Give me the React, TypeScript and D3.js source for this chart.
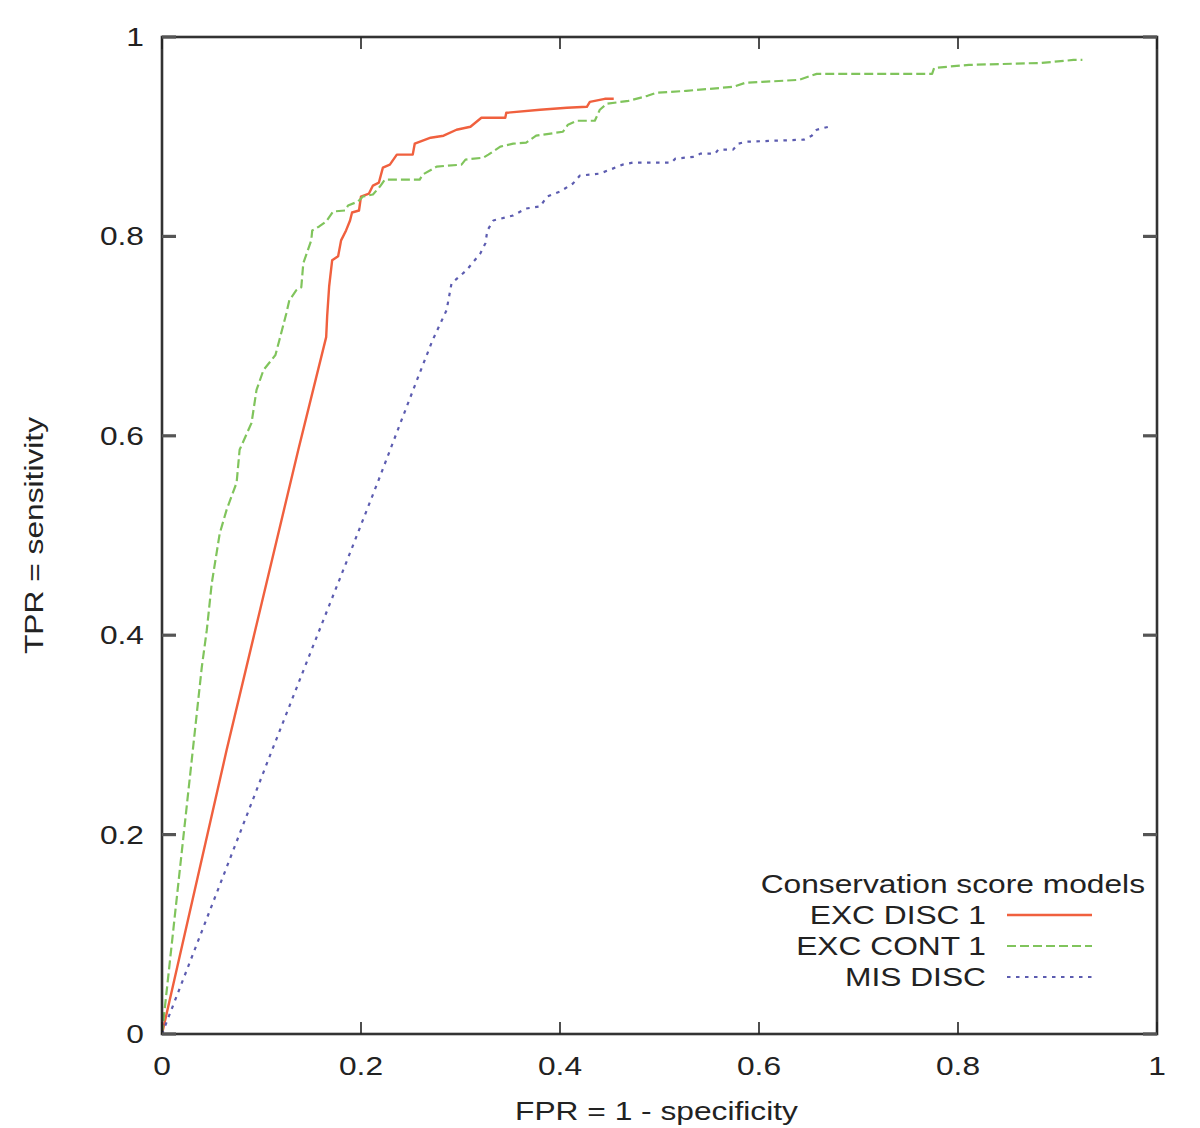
import React from "react";
import * as d3 from "d3";

type Pt = [number, number];

const excDisc1: Pt[] = [
  [0, 0], [0.065, 0.285], [0.137, 0.586], [0.165, 0.699], [0.166, 0.72], [0.168, 0.75],
  [0.171, 0.776], [0.177, 0.78], [0.180, 0.796], [0.185, 0.806], [0.189, 0.816], [0.191, 0.824],
  [0.198, 0.826], [0.200, 0.840], [0.208, 0.843], [0.212, 0.851], [0.218, 0.854], [0.222, 0.869],
  [0.229, 0.872], [0.236, 0.882], [0.252, 0.882], [0.254, 0.893], [0.270, 0.899], [0.283, 0.901],
  [0.296, 0.907], [0.310, 0.910], [0.321, 0.919], [0.345, 0.919], [0.346, 0.924], [0.380, 0.927],
  [0.407, 0.929], [0.427, 0.930], [0.430, 0.935], [0.445, 0.938], [0.454, 0.938],
];

const excCont1: Pt[] = [
  [0, 0], [0.031, 0.285], [0.040, 0.368], [0.045, 0.405], [0.050, 0.452], [0.058, 0.502],
  [0.065, 0.526], [0.075, 0.553], [0.078, 0.586], [0.090, 0.613], [0.095, 0.646], [0.102, 0.666],
  [0.114, 0.681], [0.118, 0.696], [0.125, 0.723], [0.128, 0.736], [0.135, 0.746], [0.140, 0.749],
  [0.142, 0.773], [0.150, 0.796], [0.151, 0.806], [0.158, 0.810], [0.165, 0.815], [0.172, 0.825],
  [0.184, 0.826], [0.187, 0.831], [0.197, 0.835], [0.202, 0.840], [0.212, 0.842], [0.219, 0.850],
  [0.224, 0.857], [0.259, 0.857], [0.262, 0.862], [0.276, 0.870], [0.301, 0.872], [0.305, 0.877],
  [0.323, 0.879], [0.328, 0.882], [0.340, 0.890], [0.353, 0.893], [0.366, 0.894], [0.376, 0.901],
  [0.403, 0.905], [0.408, 0.912], [0.417, 0.916], [0.435, 0.916], [0.440, 0.927], [0.447, 0.933],
  [0.469, 0.936], [0.488, 0.941], [0.497, 0.944], [0.527, 0.946], [0.574, 0.950], [0.586, 0.954],
  [0.640, 0.957], [0.658, 0.963], [0.774, 0.963], [0.776, 0.969], [0.811, 0.972], [0.884, 0.974],
  [0.916, 0.977], [0.925, 0.977],
];

const misDisc: Pt[] = [
  [0, 0], [0.108, 0.278], [0.149, 0.382], [0.186, 0.475], [0.219, 0.559], [0.242, 0.619],
  [0.259, 0.663], [0.272, 0.696], [0.286, 0.726], [0.291, 0.753], [0.306, 0.766], [0.320, 0.783],
  [0.325, 0.793], [0.327, 0.806], [0.333, 0.816], [0.353, 0.821], [0.366, 0.828], [0.380, 0.830],
  [0.387, 0.840], [0.400, 0.845], [0.413, 0.853], [0.420, 0.861], [0.440, 0.863], [0.453, 0.868],
  [0.463, 0.872], [0.473, 0.874], [0.512, 0.874], [0.516, 0.878], [0.536, 0.880], [0.541, 0.883],
  [0.556, 0.883], [0.559, 0.887], [0.574, 0.887], [0.579, 0.893], [0.588, 0.895], [0.645, 0.897],
  [0.653, 0.901], [0.658, 0.907], [0.670, 0.910],
];

const seriesNames = ["EXC DISC 1", "EXC CONT 1", "MIS DISC"];
const seriesColors = ["#f0603e", "#80c45c", "#5c5cb0"];
const seriesDash = ["none", "9 4", "3.5 5.5"];
const xTicks = [0, 0.2, 0.4, 0.6, 0.8, 1];
const yTicks = [0, 0.2, 0.4, 0.6, 0.8, 1];
const legendTitle = "Conservation score models";
const xTitle = "FPR = 1 - specificity";
const yTitle = "TPR = sensitivity";

const L = 162, R = 1157, T = 37, B = 1034;
const FONT = "'Liberation Sans', Arial, Helvetica, sans-serif";
const SX = 1.22;

function T2(props: { x: number; y: number; anchor: string; rotate?: number; children: React.ReactNode }) {
  const { x, y, anchor, rotate = 0, children } = props;
  return (
    <text transform={`translate(${x},${y}) rotate(${rotate}) scale(${SX},1)`} textAnchor={anchor}
      fontSize={26} fill="#222">{children}</text>
  );
}

export default function App() {
  const x = d3.scaleLinear().domain([0, 1]).range([L, R]);
  const y = d3.scaleLinear().domain([0, 1]).range([B, T]);
  const line = d3.line<Pt>().x((d) => x(d[0])).y((d) => y(d[1]));
  const data = [excDisc1, excCont1, misDisc];

  return (
    <svg width={1200} height={1128} style={{ position: "absolute", left: 0, top: 0, background: "#fff" }}
      fontFamily={FONT}>
      <rect x={0} y={0} width={1200} height={1128} fill="#fff" />
      {data.map((d, i) => (
        <path key={i} d={line(d) || ""} fill="none" stroke={seriesColors[i]}
          strokeWidth={i === 0 ? 2.4 : 2.2} strokeDasharray={seriesDash[i]} strokeLinejoin="round" />
      ))}
      <rect x={L} y={T} width={R - L} height={B - T} fill="none" stroke="#333" strokeWidth={2.6} />
      {xTicks.map((t) => (
        <g key={"x" + t}>
          <line x1={x(t)} x2={x(t)} y1={B} y2={B - 12} stroke="#222" strokeWidth={1.6} />
          <line x1={x(t)} x2={x(t)} y1={T} y2={T + 12} stroke="#222" strokeWidth={1.6} />
          <T2 x={x(t)} y={1075} anchor="middle">{String(t)}</T2>
        </g>
      ))}
      {yTicks.map((t) => (
        <g key={"y" + t}>
          <line x1={L} x2={L + 14} y1={y(t)} y2={y(t)} stroke="#555" strokeWidth={3.2} />
          <line x1={R} x2={R - 14} y1={y(t)} y2={y(t)} stroke="#555" strokeWidth={3.2} />
          <T2 x={144} y={y(t) + 9} anchor="end">{String(t)}</T2>
        </g>
      ))}
      <T2 x={(L + R) / 2 - 3} y={1120} anchor="middle">{xTitle}</T2>
      <T2 x={43} y={(T + B) / 2} anchor="middle" rotate={-90}>{yTitle}</T2>
      <T2 x={1145} y={893} anchor="end">{legendTitle}</T2>
      {seriesNames.map((n, i) => (
        <g key={n}>
          <T2 x={986} y={924 + i * 31} anchor="end">{n}</T2>
          <line x1={1007} x2={1092} y1={915 + i * 31} y2={915 + i * 31} stroke={seriesColors[i]}
            strokeWidth={i === 0 ? 2.4 : 2.2} strokeDasharray={seriesDash[i]} />
        </g>
      ))}
    </svg>
  );
}
